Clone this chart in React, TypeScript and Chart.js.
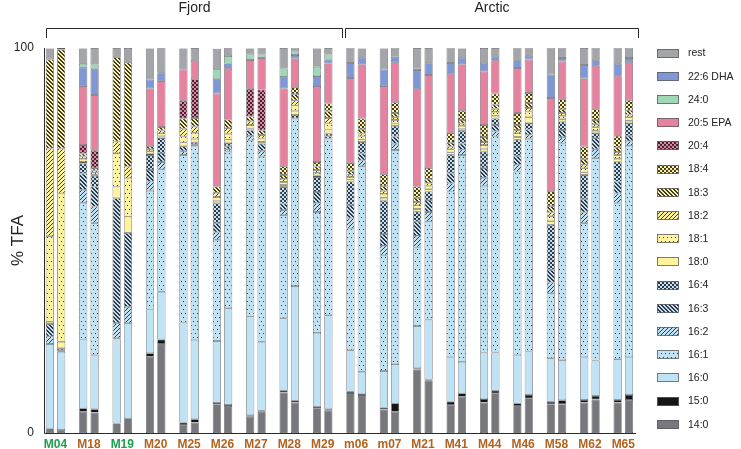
import React, { useEffect, useRef } from 'react';
import { Chart, registerables } from 'chart.js';

Chart.register(...registerables);

// ---------- data ----------
const categories = ['M04', 'M18', 'M19', 'M20', 'M25', 'M26', 'M27', 'M28', 'M29', 'm06', 'm07', 'M21', 'M41', 'M44', 'M46', 'M58', 'M62', 'M65'];
const greenSamples = ['M04', 'M19'];
const groupNames = ['Fjord', 'Arctic'];
const groupSizes = [9, 9];
const yTickValues = [0, 100];

// replicate A (left bar) and replicate B (right bar), % of total fatty acids
const fa14_0_A = [1.2, 5.5, 2.5, 19.8, 2.1, 7.5, 4.2, 10.5, 6.4, 10.1, 6.1, 16.5, 7.3, 7.9, 7.0, 7.5, 7.9, 7.9];
const fa14_0_B = [0.8, 5.3, 3.8, 23.1, 2.7, 7.0, 5.5, 7.9, 5.8, 9.6, 5.5, 13.6, 9.4, 10.3, 9.0, 7.5, 8.7, 8.6];
const fa15_0_A = [0, 0.9, 0, 0.9, 0.6, 0.3, 0.4, 0.5, 0.4, 0.6, 0.5, 0.3, 0.9, 0.9, 0.7, 0.6, 0.7, 0.7];
const fa15_0_B = [0, 0.9, 0, 1.2, 0.9, 0.3, 0.3, 0.5, 0.4, 0.5, 2.2, 0.3, 0.9, 0.7, 0.9, 1.0, 0.9, 1.3];
const fa16_0_A = [21.9, 17.9, 22.1, 11.4, 26.0, 16.1, 25.7, 18.8, 19.2, 10.8, 9.5, 11.0, 11.5, 12.1, 12.6, 11.3, 11.1, 10.6];
const fa16_0_B = [20.3, 14.1, 24.7, 12.4, 20.6, 25.1, 17.9, 29.8, 24.4, 5.8, 10.2, 15.6, 8.2, 9.9, 11.3, 10.4, 9.2, 9.8];
const fa16_1_A = [0, 35.5, 0, 30.8, 43.5, 26.3, 45.7, 26.8, 31.4, 31.6, 30.0, 20.4, 43.0, 43.3, 47.6, 16.9, 34.8, 40.5];
const fa16_1_B = [0, 34.2, 0, 31.8, 50.4, 40.7, 48.1, 43.5, 45.9, 53.4, 55.6, 25.4, 53.7, 56.1, 55.2, 56.3, 52.6, 54.9];
const fa16_2_A = [2.0, 3.4, 3.9, 2.4, 1.0, 1.9, 1.2, 1.3, 2.3, 2.7, 2.5, 3.0, 2.2, 2.1, 1.8, 2.8, 2.8, 2.5];
const fa16_2_B = [0.4, 4.3, 4.3, 1.9, 0.4, 0.6, 1.5, 0, 0, 1.5, 1.6, 2.5, 1.4, 1.4, 1.1, 1.6, 2.3, 1.2];
const fa16_3_A = [3.2, 4.2, 32.5, 3.0, 1.3, 2.4, 1.4, 1.7, 2.9, 3.4, 3.1, 3.7, 2.6, 2.5, 2.3, 3.3, 3.4, 3.1];
const fa16_3_B = [0.5, 5.2, 19.2, 2.3, 0.5, 0.8, 1.8, 0, 0.6, 1.8, 1.9, 3.1, 1.6, 1.6, 1.3, 1.9, 2.9, 1.4];
const fa16_4_A = [0, 2.6, 0, 3.9, 0, 5.2, 0, 4.3, 3.9, 6.1, 8.7, 2.6, 4.8, 4.3, 4.2, 11.7, 6.3, 5.2];
const fa16_4_B = [0, 2.8, 0, 3.9, 0, 0.8, 0, 0.9, 0.7, 3.0, 2.8, 2.2, 3.3, 1.7, 1.7, 2.2, 1.3, 3.3];
const fa18_0_A = [0.6, 0.4, 3.0, 0.4, 1.0, 0.6, 0.5, 0.5, 0.4, 0.5, 0.7, 0.7, 0.6, 0.7, 0.7, 0.9, 0.7, 0.7];
const fa18_0_B = [1.7, 0.3, 4.2, 0.5, 0.9, 0.9, 0.5, 1.0, 1.0, 0.6, 0.6, 0.6, 0.5, 0.7, 1.5, 0.6, 0.6, 0.6];
const fa18_1_A = [22.2, 0.8, 8.7, 0.6, 1.5, 1.0, 0.9, 0.8, 0.7, 0.7, 1.0, 1.0, 0.8, 1.0, 1.0, 1.3, 1.1, 1.0];
const fa18_1_B = [38.5, 0.6, 10.0, 0.8, 1.6, 1.5, 0.9, 1.5, 1.6, 0.9, 0.9, 0.9, 0.8, 1.0, 1.5, 0.9, 0.9, 0.9];
const fa18_2_A = [22.8, 0.6, 3.0, 0.5, 2.0, 1.1, 1.0, 0.8, 0.7, 0.6, 0.8, 0.8, 0.7, 0.8, 0.8, 1.0, 0.9, 0.8];
const fa18_2_B = [11.7, 0.5, 3.0, 0.7, 1.6, 1.5, 0.9, 1.3, 1.4, 0.7, 0.7, 0.7, 0.6, 0.8, 0.9, 0.7, 0.8, 0.7];
const fa18_3_A = [23.1, 0.8, 21.9, 0.8, 2.7, 1.6, 1.2, 1.0, 0.9, 0.9, 1.2, 1.1, 1.0, 1.3, 1.3, 1.6, 1.4, 1.2];
const fa18_3_B = [25.7, 0.6, 27.0, 0.9, 2.2, 2.2, 1.2, 1.6, 1.8, 1.1, 1.1, 1.1, 0.9, 1.1, 1.3, 1.0, 1.1, 1.1];
const fa18_4_A = [0, 0, 0, 0, 0, 0, 0, 2.3, 1.2, 2.1, 3.1, 2.9, 2.5, 3.1, 3.1, 3.9, 3.3, 3.0];
const fa18_4_B = [0, 0, 0, 0, 0, 0, 0, 1.8, 2.0, 2.8, 2.8, 2.8, 2.4, 2.9, 2.6, 2.6, 2.8, 2.6];
const fa20_4_A = [0, 2.2, 0, 0, 4.6, 0, 7.2, 0, 0, 0, 0, 0, 0, 0, 0, 0, 0, 0];
const fa20_4_B = [0, 4.5, 0, 0, 10.1, 0, 10.6, 0, 0, 0, 0, 0, 0, 0, 0, 0, 0, 0];
const fa20_5_A = [0, 15.3, 0, 15.0, 8.1, 24.2, 7.5, 20.2, 19.5, 22.1, 22.9, 25.3, 15.4, 13.9, 11.7, 24.2, 17.7, 15.6];
const fa20_5_B = [0, 14.5, 0, 11.9, 4.8, 13.2, 8.2, 7.5, 10.4, 14.1, 10.4, 24.2, 12.1, 8.5, 8.7, 9.8, 11.3, 9.9];
const fa22_6_A = [0, 4.8, 0, 2.3, 0, 3.7, 0, 3.0, 2.8, 3.9, 4.3, 5.0, 2.8, 2.3, 2.0, 6.1, 3.5, 3.1];
const fa22_6_B = [0, 6.7, 0, 2.2, 0, 1.4, 0, 0.9, 1.0, 1.7, 1.4, 3.2, 1.7, 0.9, 1.0, 0.9, 1.4, 1.1];
const fa24_0_A = [0, 1.0, 0, 0, 0, 2.6, 1.4, 2.2, 2.4, 0, 0, 0.4, 0, 0, 0, 0, 0, 0];
const fa24_0_B = [0, 1.3, 0, 0, 0, 1.9, 0.9, 0.9, 1.4, 0, 0, 0, 0, 0, 0, 0, 0, 0];
const rest_A = [2.9, 4.0, 2.4, 8.1, 5.5, 5.3, 1.6, 5.3, 4.8, 4.0, 5.5, 5.3, 4.0, 3.8, 3.3, 7.0, 4.4, 4.2];
const rest_B = [0.4, 4.2, 3.8, 6.6, 3.3, 2.3, 1.8, 1.0, 1.6, 2.4, 2.4, 3.8, 2.4, 2.4, 2.1, 2.7, 3.3, 2.7];

// ---------- styles ----------
const BLUE = '#bfe3f5';
const YELLOW = '#fff39c';
const PINK = '#e4829f';
const FONT = '"Liberation Sans", Arial, Helvetica, sans-serif';

type Kind = 'solid' | 'dots' | 'check' | 'fwd' | 'back';
interface Series { label: string; a: number[]; b: number[]; color: string; kind: Kind; }

// bottom-up stacking order
const series: Series[] = [
  { label: '14:0', a: fa14_0_A, b: fa14_0_B, color: '#77787c', kind: 'solid' },
  { label: '15:0', a: fa15_0_A, b: fa15_0_B, color: '#151515', kind: 'solid' },
  { label: '16:0', a: fa16_0_A, b: fa16_0_B, color: BLUE, kind: 'solid' },
  { label: '16:1', a: fa16_1_A, b: fa16_1_B, color: BLUE, kind: 'dots' },
  { label: '16:2', a: fa16_2_A, b: fa16_2_B, color: BLUE, kind: 'fwd' },
  { label: '16:3', a: fa16_3_A, b: fa16_3_B, color: BLUE, kind: 'back' },
  { label: '16:4', a: fa16_4_A, b: fa16_4_B, color: BLUE, kind: 'check' },
  { label: '18:0', a: fa18_0_A, b: fa18_0_B, color: YELLOW, kind: 'solid' },
  { label: '18:1', a: fa18_1_A, b: fa18_1_B, color: YELLOW, kind: 'dots' },
  { label: '18:2', a: fa18_2_A, b: fa18_2_B, color: YELLOW, kind: 'fwd' },
  { label: '18:3', a: fa18_3_A, b: fa18_3_B, color: YELLOW, kind: 'back' },
  { label: '18:4', a: fa18_4_A, b: fa18_4_B, color: YELLOW, kind: 'check' },
  { label: '20:4', a: fa20_4_A, b: fa20_4_B, color: PINK, kind: 'check' },
  { label: '20:5 EPA', a: fa20_5_A, b: fa20_5_B, color: PINK, kind: 'solid' },
  { label: '22:6 DHA', a: fa22_6_A, b: fa22_6_B, color: '#7f98d5', kind: 'solid' },
  { label: '24:0', a: fa24_0_A, b: fa24_0_B, color: '#9fd8b4', kind: 'solid' },
  { label: 'rest', a: rest_A, b: rest_B, color: '#a3a5a9', kind: 'solid' },
];

const legendOrder = ['rest', '22:6 DHA', '24:0', '20:5 EPA', '20:4', '18:4', '18:3', '18:2', '18:1', '18:0', '16:4', '16:3', '16:2', '16:1', '16:0', '15:0', '14:0'];

// bracket edge adjustments (px) relative to category band edges
const bracketStartShift = [7, 5.5];
const bracketEndShift = [2.5, -2];

function makeFill(color: string, kind: Kind): string | CanvasPattern {
  if (kind === 'solid') return color;
  const c = document.createElement('canvas');
  let w = 4, h = 4;
  if (kind === 'dots') { w = 4; h = 8; }
  c.width = w; c.height = h;
  const g = c.getContext('2d')!;
  g.fillStyle = color;
  g.fillRect(0, 0, w, h);
  g.fillStyle = kind === 'check' ? 'rgba(20,20,28,0.82)' : 'rgba(25,25,35,0.85)';
  for (let x = 0; x < w; x++) {
    for (let y = 0; y < h; y++) {
      let on = false;
      if (kind === 'dots') on = (x === 1 && y === 1) || (x === 3 && y === 5);
      if (kind === 'check') on = (Math.floor(x / 2) + Math.floor(y / 2)) % 2 === 0;
      if (kind === 'fwd') on = (x + y) % 4 === 3;
      if (kind === 'back') { const d = ((x - y) % 4 + 4) % 4; on = d === 0 || d === 1; }
      if (on) g.fillRect(x, y, 1, 1);
    }
  }
  return g.createPattern(c, 'repeat')!;
}

export default function App() {
  const ref = useRef<HTMLCanvasElement>(null);

  useEffect(() => {
    const canvas = ref.current!;
    const fills: Record<string, string | CanvasPattern> = {};
    series.forEach((s) => { fills[s.label] = makeFill(s.color, s.kind); });

    const datasets: any[] = [];
    (['a', 'b'] as const).forEach((rep) => {
      series.forEach((s) => {
        const vals = rep === 'a' ? s.a : s.b;
        datasets.push({
          label: s.label,
          stack: rep,
          data: vals.map((v) => (v === 0 ? null : v)),
          backgroundColor: fills[s.label],
          borderColor: '#5e5e62',
          borderWidth: 0.7,
          borderSkipped: false,
          categoryPercentage: 0.68,
          barPercentage: 0.72,
        });
      });
    });

    const decor = {
      id: 'decor',
      afterDraw(chart: any) {
        const ctx: CanvasRenderingContext2D = chart.ctx;
        const x = chart.scales.x;
        const y = chart.scales.y;
        ctx.save();
        ctx.strokeStyle = '#2b2b2b';
        ctx.lineWidth = 1;
        // axes
        ctx.beginPath();
        ctx.moveTo(44.5, y.getPixelForValue(100));
        ctx.lineTo(44.5, y.getPixelForValue(0) + 0.5);
        ctx.lineTo(636, y.getPixelForValue(0) + 0.5);
        ctx.stroke();

        // group brackets
        const half = (x.getPixelForValue(1) - x.getPixelForValue(0)) / 2;
        let start = 0;
        ctx.font = `14px ${FONT}`;
        ctx.fillStyle = '#222';
        ctx.textAlign = 'center';
        ctx.textBaseline = 'middle';
        groupNames.forEach((name, gi) => {
          const end = start + groupSizes[gi] - 1;
          const x0 = Math.round(x.getPixelForValue(start) - half + bracketStartShift[gi]) + 0.5;
          const x1 = Math.round(x.getPixelForValue(end) + half + bracketEndShift[gi]) + 0.5;
          const by = 28.5;
          ctx.beginPath();
          ctx.moveTo(x0, 38);
          ctx.lineTo(x0, by);
          ctx.lineTo(x1, by);
          ctx.lineTo(x1, 38);
          ctx.stroke();
          ctx.fillText(name, (x0 + x1) / 2, 8);
          start = end + 1;
        });

        // legend
        ctx.textAlign = 'left';
        ctx.font = `10.5px ${FONT}`;
        legendOrder.forEach((lab, i) => {
          const cy = 53 + i * 23.2;
          const top = Math.round(cy - 4.5);
          ctx.fillStyle = fills[lab] as any;
          ctx.fillRect(657, top, 22, 9);
          ctx.strokeStyle = '#5e5e62';
          ctx.lineWidth = 0.8;
          ctx.strokeRect(657.5, top + 0.5, 21, 8);
          ctx.fillStyle = '#222';
          ctx.fillText(lab, 688, cy + 0.5);
        });
        ctx.restore();
      },
    };

    const chart = new Chart(canvas, {
      type: 'bar',
      data: { labels: categories, datasets },
      options: {
        animation: false,
        responsive: false,
        layout: { padding: { top: 48, right: 101, left: 0, bottom: 0 } },
        plugins: { legend: { display: false }, tooltip: { enabled: false } },
        scales: {
          x: {
            stacked: true,
            grid: { display: false, drawTicks: false },
            border: { display: false },
            ticks: {
              autoSkip: false,
              maxRotation: 0,
              padding: 4,
              font: { family: FONT, size: 12, weight: 'bold' },
              color: (c: any) => (greenSamples.includes(categories[c.index]) ? '#1e9e4e' : '#b3631f'),
            },
            afterFit: (s: any) => { s.height = 16; },
          },
          y: {
            stacked: true,
            min: 0,
            max: 100,
            grid: { display: false, drawTicks: false },
            border: { display: false },
            afterBuildTicks: (s: any) => { s.ticks = yTickValues.map((v) => ({ value: v })); },
            ticks: { padding: 5, font: { family: FONT, size: 12 }, color: '#222' },
            title: { display: true, text: '% TFA', font: { family: FONT, size: 17 }, color: '#222', padding: { top: 8, bottom: 0 } },
            afterFit: (s: any) => { s.width = 38.8; },
          },
        },
      } as any,
      plugins: [decor],
    });
    return () => chart.destroy();
  }, []);

  return (
    <div style={{ position: 'fixed', left: 0, top: 0, width: 741, height: 449, background: '#fff' }}>
      <canvas ref={ref} width={741} height={449} style={{ width: 741, height: 449, display: 'block' }} />
    </div>
  );
}
